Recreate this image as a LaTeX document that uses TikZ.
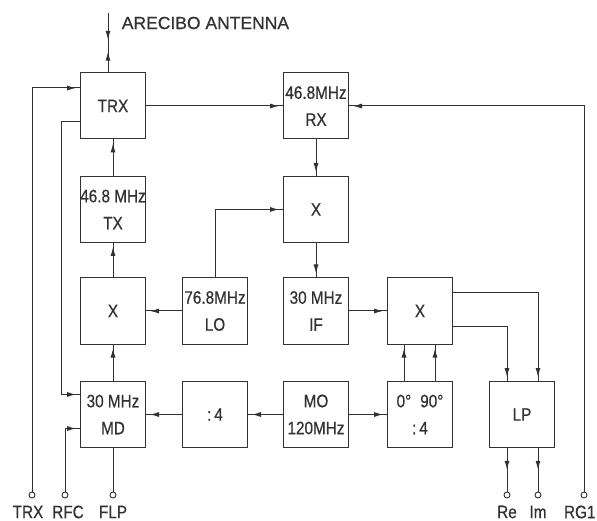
\documentclass[tikz,border=0pt]{standalone}
\usepackage{fontspec}
\setmainfont[FakeStretch=0.85,FakeBold=0.6]{Liberation Sans}
\newfontfamily\widefont[FakeBold=0.6]{Liberation Sans}
\usetikzlibrary{arrows.meta,decorations.markings}
\definecolor{ink}{RGB}{50,50,50}
\begin{document}
\begin{tikzpicture}[x=1pt, y=-1pt, line width=1pt, draw=ink,
    every node/.style={text=ink, font=\fontsize{18}{27}\selectfont},
    block/.style={draw, minimum width=65pt, minimum height=66pt, inner sep=0pt, align=center},
    term/.style={draw, circle, fill=white, inner sep=0pt, minimum size=6pt, line width=0.9pt},
    flow/.style={postaction={decorate}, decoration={markings,
        mark=at position -4pt with {\arrow{Latex[length=9pt,width=5pt]}}}},
    midflow/.style={postaction={decorate}, decoration={markings,
        mark=at position 0.5 with {\arrow{Latex[length=9pt,width=5pt]}}}}]
  \useasboundingbox (0,0) rectangle (597,521);

  % blocks, row by row
  \node[block] (trx) at (113,106) {TRX};
  \node[block] (rx) at (316,106) {46.8MHz\\RX};
  \node[block] (tx) at (113,209.5) {46.8 MHz\\TX};
  \node[block] (mixrx) at (316,209.5) {X};
  \node[block] (mixtx) at (113,311) {X};
  \node[block] (lo) at (215,311) {76.8MHz\\LO};
  \node[block] (if) at (316,311) {30 MHz\\IF};
  \node[block] (mixiq) at (420,311) {X};
  \node[block] (md) at (113,414.5) {30 MHz\\MD};
  \node[block] (div) at (215,414.5) {:\,4};
  \node[block] (mo) at (316,414.5) {MO\\120MHz};
  \node[block] (phase) at (420,414.5) {0°\hspace{9pt}90°\\:\,4};
  \node[block] (lp) at (522,414.5) {LP};

  % terminals
  \node[term] (ptrx) at (32,495) {};
  \node[term] (prfc) at (65,495) {};
  \node[term] (pflp) at (113,495) {};
  \node[term] (pre) at (507,495) {};
  \node[term] (pim) at (538,495) {};
  \node[term] (prg) at (584,495) {};
  \node (ltrx) at (28,512) {TRX};
  \node (lrfc) at (68,512) {RFC};
  \node (lflp) at (113,512) {FLP};
  \node (lre) at (507,512) {Re};
  \node (lim) at (538,512) {Im};
  \node[anchor=east, inner sep=1pt] (lrg) at (597,512) {RG1};

  % antenna
  \coordinate (ant) at (108,13);
  \node[anchor=west, font=\widefont\fontsize{17.5}{20}\selectfont] (lant) at (118,23) {ARECIBO ANTENNA};
  \draw[postaction={decorate}, decoration={markings,
      mark=at position 0.45 with {\arrow{Latex[length=9pt,width=5pt]}},
      mark=at position 0.65 with {\arrowreversed{Latex[length=9pt,width=5pt]}}}]
    (ant) -- (ant |- trx.north);

  % transmit chain
  \draw[flow] (ptrx) |- ([yshift=18pt]trx.west);
  \draw[flow] ([yshift=-16pt]trx.west) -- ++(-19,0) |- ([yshift=20pt]md.west);
  \draw[flow] (prfc) |- ([yshift=-14pt]md.west);
  \draw (md.south) -- (pflp);
  \draw[flow] (md.north) -- (mixtx.south);
  \draw[flow] (mixtx.north) -- (tx.south);
  \draw[flow] (tx.north) -- (trx.south);
  \draw[flow] (lo.west) -- (mixtx.east);
  \draw[flow] (div.west) -- (md.east);
  \draw[flow] (mo.west) -- (div.east);

  % receive chain
  \draw[flow] (trx.east) -- (rx.west);
  \draw[flow] (prg) |- (rx.east);
  \draw[flow] (rx.south) -- (mixrx.north);
  \draw[flow] (lo.north) |- (mixrx.west);
  \draw[flow] (mixrx.south) -- (if.north);
  \draw[flow] (if.east) -- (mixiq.west);
  \draw[flow] (mo.east) -- (phase.west);
  \draw[flow] ([xshift=-16pt]phase.north) -- ([xshift=-16pt]mixiq.south);
  \draw[flow] ([xshift=15pt]phase.north) -- ([xshift=15pt]mixiq.south);
  \draw[flow] ([yshift=18pt]mixiq.east) -| ([xshift=16pt]lp.north);
  \draw[flow] ([yshift=-16pt]mixiq.east) -| ([xshift=-15pt]lp.north);
  \draw[midflow] ([xshift=-15pt]lp.south) -- (pre);
  \draw[midflow] ([xshift=16pt]lp.south) -- (pim);
\end{tikzpicture}
\end{document}
